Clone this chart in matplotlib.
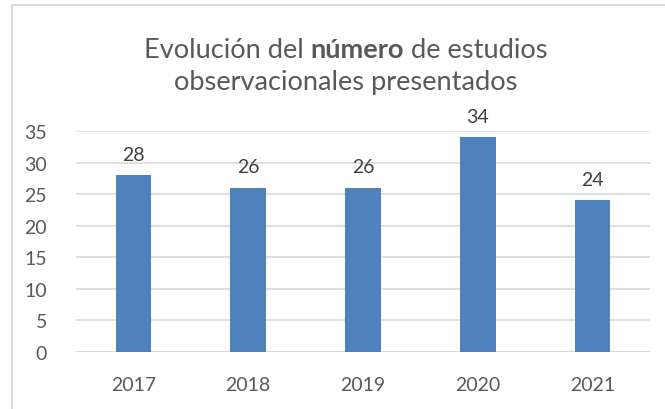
import matplotlib
matplotlib.use("Agg")
import matplotlib.pyplot as plt
from matplotlib.patches import Rectangle

years = ["2017", "2018", "2019", "2020", "2021"]
values = [28, 26, 26, 34, 24]
yticks = [0, 5, 10, 15, 20, 25, 30, 35]

plt.rcParams['font.family'] = ['Lato', 'DejaVu Sans']

W, H = 6.65, 4.10
fig = plt.figure(figsize=(W, H), dpi=100)
fig.patch.set_facecolor("white")

# border
fig.patches.append(Rectangle((12/665, -0.05), 1.2, (410-6)/410 + 0.05, transform=fig.transFigure,
                             fill=False, edgecolor="#D9D9D9", linewidth=1.3))

ax = fig.add_axes([76/665, 1-353/410, (650-76)/665, (353-132)/410])
x = list(range(len(years)))
bars = ax.bar(x, values, width=0.31, color="#4F81BD", zorder=3)
ax.set_xlim(-0.5, len(years) - 0.5)
ax.set_ylim(0, 35)
ax.set_yticks(yticks)
ax.set_xticks(x)
ax.set_xticklabels(years)
ax.tick_params(axis="both", length=0, labelsize=14, colors="#595959")
ax.tick_params(axis="x", pad=17)
ax.tick_params(axis="y", pad=21)
for lab in ax.get_yticklabels():
    lab.set_horizontalalignment("right")
ax.grid(axis="y", color="#D9D9D9", linewidth=1.2, zorder=0)
for s in ax.spines.values():
    s.set_visible(False)
ax.axhline(0, color="#D9D9D9", linewidth=1.3, zorder=2)

for xi, v in zip(x, values):
    ax.annotate(str(v), (xi, v), xytext=(0, 9), textcoords="offset points",
                ha="center", va="bottom", fontsize=14, color="#404040")

# title with bold word
fig.canvas.draw()
r = fig.canvas.get_renderer()
col = "#595959"
parts = [("Evolución del ", "normal"), ("número", "bold"), (" de estudios", "normal")]

def measure(fs):
    ws = []
    for s, w in parts:
        t = fig.text(0, 0, s, fontsize=fs, fontweight=w)
        ws.append(t.get_window_extent(r).width)
        t.remove()
    return ws

fs = 16
ws = measure(fs)
fs = fs * 406 / sum(ws)
ws = measure(fs)
total = sum(ws)
cx = 346
start = cx - total / 2
y1 = 1 - 58/410
xx = start
for (s, w), wd in zip(parts, ws):
    fig.text(xx / 665, y1, s, fontsize=fs, fontweight=w, color=col, va="baseline", ha="left")
    xx += wd
fig.text(cx / 665, 1 - 90/410, "observacionales presentados", fontsize=fs, color=col,
         ha="center", va="baseline")

fig.savefig("out.png", dpi=100)
